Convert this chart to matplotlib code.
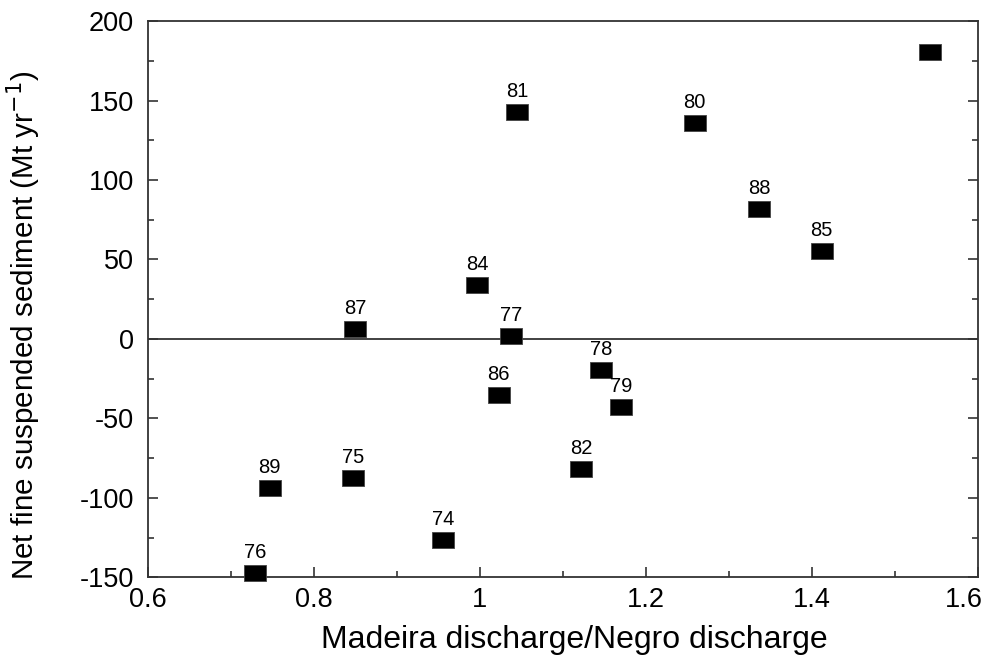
import matplotlib
matplotlib.use("Agg")
import matplotlib.pyplot as plt
from matplotlib.path import Path
from matplotlib.ticker import MultipleLocator, FuncFormatter

plt.rcParams['font.family'] = ['Liberation Sans', 'DejaVu Sans']

# Data
years = ["76", "89", "75", "74", "87", "84", "81", "77", "86", "78", "79", "82", "80", "88", "85", ""]
ratio = [0.729, 0.747, 0.847, 0.956, 0.850, 0.997, 1.045, 1.038, 1.023, 1.146, 1.170, 1.122, 1.259, 1.337, 1.412, 1.543]
sediment = [-147, -94, -87.5, -126.5, 6.5, 33.9, 142.5, 1.8, -35.1, -19.4, -42.7, -81.6, 135.6, 81.8, 55.5, 180.8]
xmin, xmax = 0.6, 1.6
ymin, ymax = -150, 200

fig = plt.figure(figsize=(9.88, 6.60), dpi=100)
ax = fig.add_axes([0.1495, 0.1253, 0.9896 - 0.1495, 0.968 - 0.1253])

ax.axhline(0, color='#333333', lw=1.3, zorder=1)

rect = Path([(-1, -0.727), (1, -0.727), (1, 0.727), (-1, 0.727), (-1, -0.727)],
            [Path.MOVETO, Path.LINETO, Path.LINETO, Path.LINETO, Path.CLOSEPOLY])
ax.plot(ratio, sediment, linestyle='none', marker=rect, markersize=15.8,
        markerfacecolor='black', markeredgecolor='#444444', markeredgewidth=0.6,
        zorder=3, clip_on=False)

for x, y, t in zip(ratio, sediment, years):
    if t:
        ax.annotate(t, (x, y), xytext=(0, 10.8), textcoords='offset points',
                    ha='center', va='baseline', fontsize=14.5, color='black')

ax.set_xlim(xmin, xmax)
ax.set_ylim(ymin, ymax)
ax.xaxis.set_major_locator(MultipleLocator(0.2))
ax.xaxis.set_minor_locator(MultipleLocator(0.1))
ax.yaxis.set_major_locator(MultipleLocator(50))
ax.yaxis.set_minor_locator(MultipleLocator(25))
# the last x label is drawn separately so it stays inside the figure
ax.xaxis.set_major_formatter(FuncFormatter(lambda v, p: "" if abs(v - xmax) < 1e-9 else f"{v:g}"))
ax.yaxis.set_major_formatter(FuncFormatter(lambda v, p: f"{v:g}"))

ax.tick_params(which='both', direction='in', top=False, right=True, color='#333333', width=1.2)
ax.tick_params(which='major', length=7, labelsize=19.5, pad=7)
ax.tick_params(which='minor', length=4)
ax.tick_params(axis='y', which='major', pad=10)
for s in ax.spines.values():
    s.set_color('#333333')
    s.set_linewidth(1.3)

ax.annotate(f"{xmax:g}", xy=(xmax, 0), xycoords=ax.get_xaxis_transform(),
            xytext=(-10, -7), textcoords='offset points',
            ha='center', va='top', fontsize=19.5, annotation_clip=False)

ax.set_xlabel("Madeira discharge/Negro discharge", fontsize=23)
ax.xaxis.set_label_coords(0.514, -0.086)
ax.set_ylabel("Net fine suspended sediment (Mt yr$^{\u22121}$)", fontsize=21.3)
ax.yaxis.set_label_coords(-0.126, 0.4535)

fig.savefig("out.png", dpi=100)
